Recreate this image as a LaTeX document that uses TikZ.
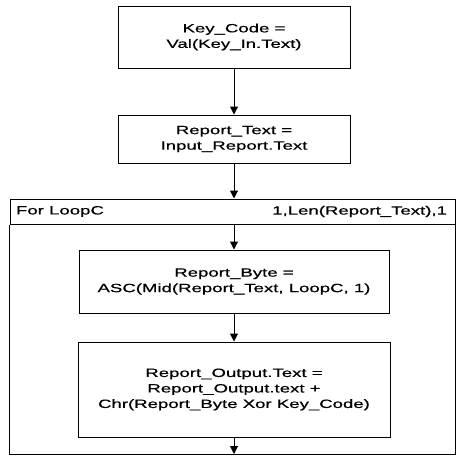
\documentclass[tikz,border=0pt]{standalone}
\usepackage{fontspec}
\setmainfont{Liberation Sans}[FakeStretch=1.55,FakeBold=0.6]
\usetikzlibrary{arrows.meta,positioning}

\begin{document}
\begin{tikzpicture}[x=1pt,y=-1pt,
    font=\fontsize{12}{15.5}\selectfont,
    stepbox/.style={draw,line width=1pt,align=center,inner sep=0pt},
    flow/.style={line width=1pt,-{Triangle[width=8pt,length=8pt]}}]
  \useasboundingbox (0,0) rectangle (460,455);

  \node[stepbox,minimum width=232pt,minimum height=62pt] (keycode) at (234,37)
    {Key\_Code =\\Val(Key\_In.Text)};
  \node[stepbox,minimum width=232pt,minimum height=48pt] (reporttext) at (234,139)
    {Report\_Text =\\Input\_Report.Text};

  % loop frame
  \node[draw,line width=1pt,minimum width=445pt,minimum height=25pt,inner sep=0pt]
    (loophdr) at (232.5,211.5) {};
  \node[anchor=west] (loopvar) at ([xshift=3pt]loophdr.west) {For LoopC};
  \node[anchor=east] (looprange) at ([xshift=-5pt]loophdr.east) {1,Len(Report\_Text),1};
  \coordinate (loopend) at (234,454);
  \draw[line width=1pt] (loophdr.south west) -- (loophdr.south west |- loopend)
    -- (loophdr.south east |- loopend) -- (loophdr.south east);

  \node[stepbox,minimum width=310pt,minimum height=63pt] (reportbyte) at (234,281.5)
    {Report\_Byte =\\ASC(Mid(Report\_Text, LoopC, 1)};
  \node[stepbox,minimum width=312pt,minimum height=95pt] (reportout) at (234,389.5)
    {Report\_Output.Text =\\Report\_Output.text +\\Chr(Report\_Byte Xor Key\_Code)};

  \draw[flow] (keycode) -- (reporttext);
  \draw[flow] (reporttext.south) -- (reporttext.south |- loophdr.north);
  \draw[flow] (reportbyte.north |- loophdr.south) -- (reportbyte.north);
  \draw[flow] (reportbyte) -- (reportout);
  \draw[flow] (reportout.south) -- (loopend);
\end{tikzpicture}
\end{document}
